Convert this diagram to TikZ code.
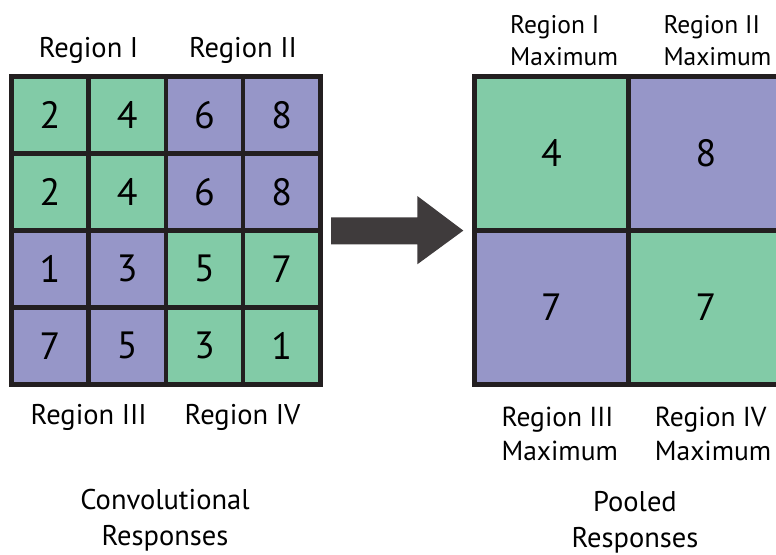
\documentclass[tikz,border=0pt]{standalone}
\usepackage{fontspec}
\setmainfont{PT Sans}
\definecolor{cgreen}{HTML}{82CBA7}
\definecolor{cpurple}{HTML}{9696C8}
\definecolor{cline}{HTML}{231F20}
\definecolor{carrow}{HTML}{3F3B3C}
\begin{document}
\begin{tikzpicture}[x=1pt,y=-1pt,
  cell/.style={draw=cline,line width=4.7pt,minimum width=77.2pt,minimum height=77pt,inner sep=0pt,font=\fontsize{38}{40}\selectfont},
  bigcell/.style={draw=cline,line width=4.7pt,minimum width=154.4pt,minimum height=154pt,inner sep=0pt,font=\fontsize{38}{40}\selectfont},
  lbl/.style={font=\fontsize{28.5}{34}\selectfont,inner sep=0pt,anchor=base},
  lblw/.style={font=\fontsize{27.5}{34}\selectfont,inner sep=0pt,anchor=base west},
  lbltop/.style={font=\fontsize{25.5}{34}\selectfont,inner sep=0pt,anchor=base west}]
\useasboundingbox (0,0) rectangle (776,554);
% left grid
\def\gx{11.5}\def\gy{76.3}
\foreach \r/\row in {0/{2/cgreen,4/cgreen,6/cpurple,8/cpurple},1/{2/cgreen,4/cgreen,6/cpurple,8/cpurple},2/{1/cpurple,3/cpurple,5/cgreen,7/cgreen},3/{7/cpurple,5/cpurple,3/cgreen,1/cgreen}}{
  \foreach \v/\c [count=\i from 0] in \row {
    \node[cell,fill=\c] (c\r\i) at ({\gx+77.2*\i+38.6},{\gy+77*\r+38.5}) {\v};
  }
}
% pooled grid
\node[bigcell,fill=cgreen] (p00) at (551.5,153.3) {4};
\node[bigcell,fill=cpurple] (p01) at (705.9,153.3) {8};
\node[bigcell,fill=cpurple] (p10) at (551.5,307.3) {7};
\node[bigcell,fill=cgreen] (p11) at (705.9,307.3) {7};
% arrow
\fill[carrow] (331,217.3) -- (417.3,217.3) -- (417.3,196) -- (463.3,230.6) -- (417.3,264.3) -- (417.3,244.3) -- (331,244.3) -- cycle;
% labels
\node[lbl] (r1) at (88.5,57) {Region I};
\node[lbl] (r2) at (243,57) {Region II};
\node[lbl] (r3) at (88.7,424) {Region III};
\node[lbl] (r4) at (242.5,424) {Region IV};
\node[lbltop] (m1a) at (510,33.5) {Region I};
\node[lbltop] (m1b) at (510,65) {Maximum};
\node[lbltop] (m2a) at (663.3,33.5) {Region II};
\node[lbltop] (m2b) at (663.3,65) {Maximum};
\node[lblw] (m3a) at (501.3,426) {Region III};
\node[lblw] (m3b) at (501.3,460) {Maximum};
\node[lblw] (m4a) at (654.7,426) {Region IV};
\node[lblw] (m4b) at (654.7,460) {Maximum};
\node[lbl] (t1a) at (165,509.5) {Convolutional};
\node[lbl] (t1b) at (165,545.5) {Responses};
\node[lbl] (t2a) at (635,511) {Pooled};
\node[lbl] (t2b) at (635,547) {Responses};
\end{tikzpicture}
\end{document}
